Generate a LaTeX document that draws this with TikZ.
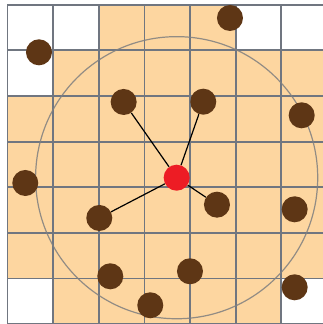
\documentclass[tikz,border=0pt]{standalone}
\usepackage{tikz}
\usepackage{xcolor}
\usetikzlibrary{calc}

\definecolor{cellfill}{RGB}{253,214,160}
\definecolor{gridgray}{RGB}{112,118,128}
\definecolor{dotbrown}{RGB}{94,54,21}
\definecolor{hubred}{RGB}{237,28,36}

\tikzset{
	dot/.style={circle,fill=dotbrown,inner sep=0pt,minimum size=0.57cm},
	hub/.style={circle,fill=hubred,inner sep=0pt,minimum size=0.57cm},
	link/.style={black,line width=0.75pt},
	gridline/.style={gridgray,line width=1.1pt},
}

\begin{document}
\begin{tikzpicture}
			
			% frame, grid cut at the right edge
			\useasboundingbox (-0.164,0.005) rectangle (6.911,7.103);
			\clip (-0.164,0.005) rectangle (6.911,7.103);
			
			% filled cells, then the white ones
			\fill[cellfill] (0,0) rectangle (7,7);
			\fill[white] (0,6) rectangle (2,7);
			\fill[white] (0,5) rectangle (1,6);
			\fill[white] (5,6) rectangle (7,7);
			\fill[white] (0,0) rectangle (1,1);
			\fill[white] (6,0) rectangle (7,1);
			
			% grid
			\draw[gridline] (0,0) grid (7,7);
			
			% range circle round the hub
			\draw[gray,opacity=0.85,line width=0.75pt] (3.706,3.210) circle (3.09);
			
			% hub and particles
			\node[hub] (hub) at (3.706,3.210) {};
			\node[dot] (p1)  at (0.690,5.957) {};
			\node[dot] (p2)  at (2.545,4.869) {};
			\node[dot] (p3)  at (4.874,6.709) {};
			\node[dot] (p4)  at (4.289,4.875) {};
			\node[dot] (p5)  at (6.445,4.577) {};
			\node[dot] (p6)  at (0.390,3.094) {};
			\node[dot] (p7)  at (2.011,2.328) {};
			\node[dot] (p8)  at (2.252,1.050) {};
			\node[dot] (p9)  at (3.128,0.415) {};
			\node[dot] (p10) at (4.589,2.619) {};
			\node[dot] (p11) at (6.291,2.518) {};
			\node[dot] (p12) at (3.998,1.160) {};
			\node[dot] (p13) at (6.291,0.809) {};
			
			% neighbours joined to the hub
			\draw[link] (hub) -- (p2);
			\draw[link] (hub) -- (p4);
			\draw[link] (hub) -- (p7);
			\draw[link] (hub) -- (p10);
			
		\end{tikzpicture}
\end{document}
